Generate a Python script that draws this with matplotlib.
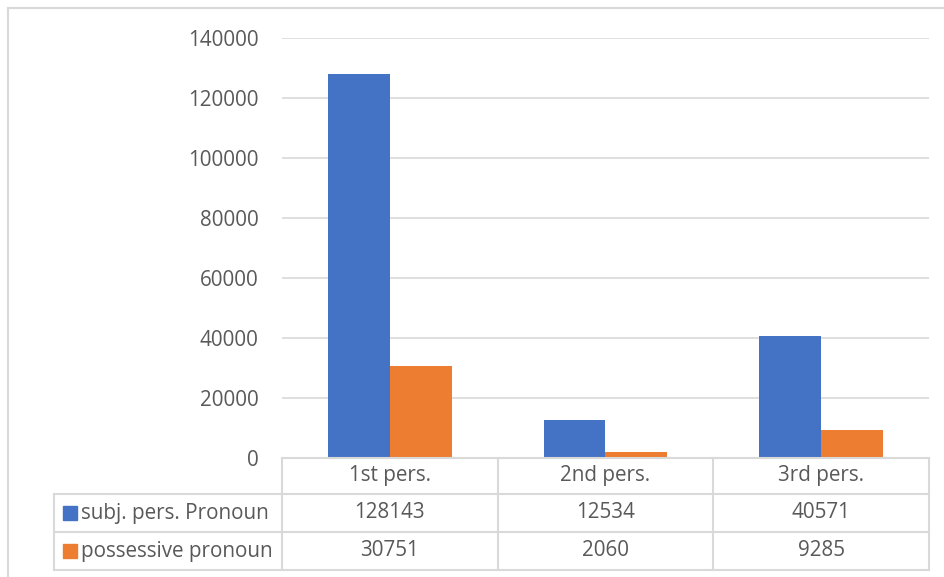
import matplotlib
matplotlib.use("Agg")
import matplotlib.pyplot as plt
from matplotlib.lines import Line2D
from matplotlib.patches import Rectangle
import numpy as np

# data
categories = ["1st pers.", "2nd pers.", "3rd pers."]
series_names = ["subj. pers. Pronoun", "possessive pronoun"]
subj_values = [128143, 12534, 40571]
poss_values = [30751, 2060, 9285]
colors = ["#4472C4", "#ED7D31"]
yticks = [0, 20000, 40000, 60000, 80000, 100000, 120000, 140000]

W, H = 945, 577
plt.rcParams['font.family'] = ['Open Sans', 'DejaVu Sans']
text_color = "#595959"
grid_color = "#D9D9D9"

fig = plt.figure(figsize=(W / 100, H / 100), dpi=100)

def fx(px):
    return px / W

def fy(py):
    return 1 - py / H

# plot area in pixels
left, right, top, bottom = 282, 929, 38, 458
ax = fig.add_axes([fx(left), fy(bottom), fx(right - left), (bottom - top) / H])

x = np.arange(len(categories))
bw = 0.287
ax.bar(x - bw / 2, subj_values, bw, color=colors[0], zorder=3)
ax.bar(x + bw / 2, poss_values, bw, color=colors[1], zorder=3)

fs = 14.9
ax.set_xlim(-0.5, len(categories) - 0.5)
ax.set_ylim(0, 140000)
ax.set_yticks(yticks)
ax.set_yticklabels([str(v) for v in yticks], fontsize=fs, color=text_color)
ax.tick_params(axis='y', length=0, pad=17)
ax.set_xticks([])
ax.grid(axis='y', color=grid_color, linewidth=1.2, zorder=0)
for s in ax.spines.values():
    s.set_visible(False)

# data table below the chart
def hline(y, x0, x1):
    fig.add_artist(Line2D([fx(x0), fx(x1)], [fy(y), fy(y)], color=grid_color, lw=1.5))

def vline(xp, y0, y1):
    fig.add_artist(Line2D([fx(xp), fx(xp)], [fy(y0), fy(y1)], color=grid_color, lw=1.5))

col_edges = np.linspace(left, right, len(categories) + 1)
row_edges = [458, 494, 532, 570]
label_left = 54

hline(row_edges[0], left, right)
for r in row_edges[1:]:
    hline(r, label_left, right)
vline(label_left, row_edges[1], row_edges[-1])
for c in col_edges:
    vline(c, row_edges[0], row_edges[-1])

for i, cat in enumerate(categories):
    cx = (col_edges[i] + col_edges[i + 1]) / 2
    cy = (row_edges[0] + row_edges[1]) / 2
    fig.text(fx(cx), fy(cy), cat, ha='center', va='center', fontsize=fs, color=text_color)

for r, (name, vals) in enumerate(zip(series_names, [subj_values, poss_values])):
    cy = (row_edges[r + 1] + row_edges[r + 2]) / 2
    fig.add_artist(Rectangle((fx(63), fy(cy + 7)), fx(14), 14 / H, color=colors[r],
                             transform=fig.transFigure))
    fig.text(fx(81), fy(cy), name, ha='left', va='center', fontsize=fs, color=text_color)
    for i, v in enumerate(vals):
        cx = (col_edges[i] + col_edges[i + 1]) / 2
        fig.text(fx(cx), fy(cy), str(v), ha='center', va='center', fontsize=fs, color=text_color)

# outer chart border (partly cropped)
fig.add_artist(Line2D([fx(8), fx(8)], [fy(8), 0], color=grid_color, lw=1.5))
fig.add_artist(Line2D([fx(8), 1], [fy(8), fy(8)], color=grid_color, lw=1.5))

fig.savefig("out.png", dpi=100)
